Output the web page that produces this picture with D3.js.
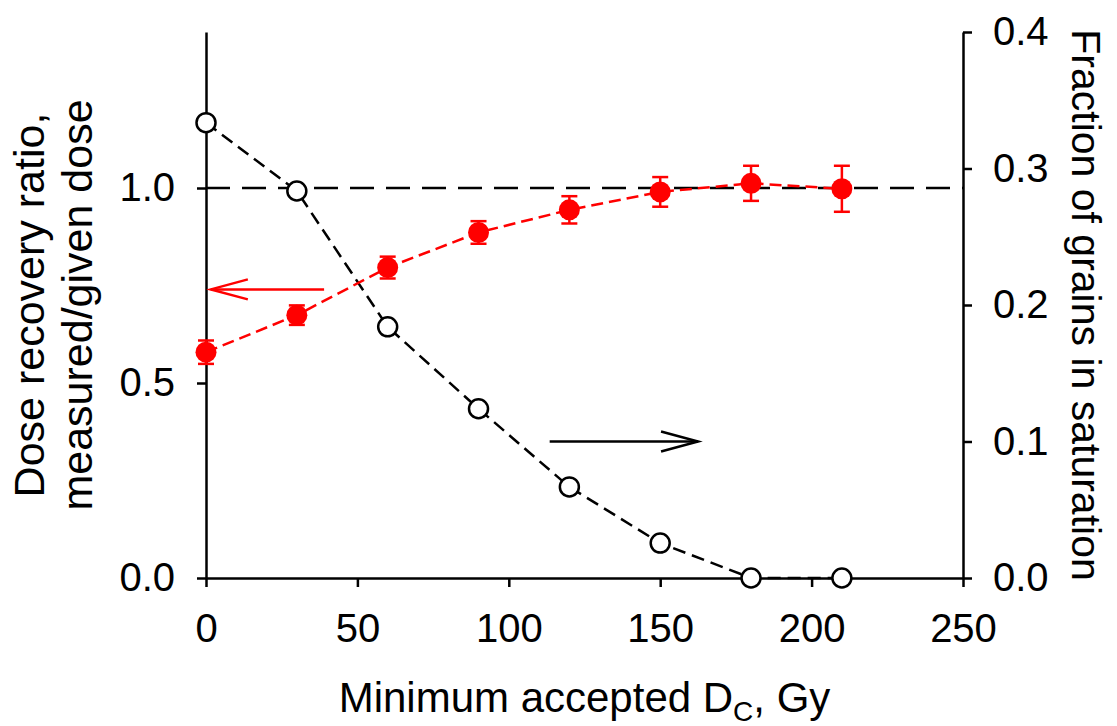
<!DOCTYPE html>
<html>
<head>
<meta charset="utf-8">
<script src="https://cdn.jsdelivr.net/npm/d3@7"></script>
<style>
  html, body { margin: 0; padding: 0; background: #fff; }
  svg { display: block; }
  text { font-family: "Liberation Sans", Arial, sans-serif; fill: #000; }
</style>
</head>
<body>
<svg id="chart" width="1117" height="726"></svg>
<script>
// ---- data ----
const minDc = [0, 30, 60, 90, 120, 150, 180, 210];
const doseRatio = [0.579, 0.674, 0.796, 0.886, 0.944, 0.990, 1.012, 0.998];
const doseRatioErr = [0.030, 0.025, 0.028, 0.029, 0.035, 0.038, 0.045, 0.059];
const fracSaturation = [0.3336, 0.2835, 0.184, 0.124, 0.0667, 0.0256, 0.0, 0.0];
const xTicks = [0, 50, 100, 150, 200, 250];
const yLeftTicks = [0, 0.5, 1.0];
const yRightTicks = [0, 0.1, 0.2, 0.3, 0.4];
const referenceRatio = 1.0;
// arrows: [x0, x1, y]  (red on left axis, black on right axis)
const leftArrow = [39, 1.6, 0.74];
const rightArrow = [113.5, 162.5, 0.1];

// ---- layout ----
const svg = d3.select("#chart");
const L = 206, R = 963, T = 32, B = 578;
const x = d3.scaleLinear().domain([0, 250]).range([L, R]);
const yL = d3.scaleLinear().domain([0, 1.4]).range([B, T]);
const yR = d3.scaleLinear().domain([0, 0.4]).range([B, T]);
const red = "#ff0000";
const fmt1 = d3.format(".1f");

// reference line at 1.0
svg.append("line")
  .attr("x1", x(0)).attr("x2", x(250))
  .attr("y1", yL(referenceRatio)).attr("y2", yL(referenceRatio))
  .attr("stroke", "#000").attr("stroke-width", 2.5)
  .attr("stroke-dasharray", "24,12");

// axes
function styleAxis(g) {
  g.select(".domain").attr("stroke", "#000").attr("stroke-width", 2.5);
  g.selectAll(".tick line").attr("stroke", "#000").attr("stroke-width", 2.5);
  g.selectAll(".tick text").style("font-size", "40px").attr("fill", "#000");
}
svg.append("g").attr("transform", `translate(0,${B})`)
  .call(d3.axisBottom(x).tickValues(xTicks).tickFormat(d3.format("d")).tickSize(9).tickPadding(27).tickSizeOuter(0))
  .call(styleAxis);
svg.append("g").attr("transform", `translate(${L},0)`)
  .call(d3.axisLeft(yL).tickValues(yLeftTicks).tickFormat(fmt1).tickSize(9).tickPadding(22).tickSizeOuter(0))
  .call(styleAxis);
svg.append("g").attr("transform", `translate(${R},0)`)
  .call(d3.axisRight(yR).tickValues(yRightTicks).tickFormat(fmt1).tickSize(9).tickPadding(21).tickSizeOuter(0))
  .call(styleAxis);

// black series (right axis)
const lineR = d3.line().x((d, i) => x(minDc[i])).y(d => yR(d));
svg.append("path").datum(fracSaturation)
  .attr("d", lineR).attr("fill", "none")
  .attr("stroke", "#000").attr("stroke-width", 2.5).attr("stroke-dasharray", "13,7");

// red series (left axis)
const lineL = d3.line().x((d, i) => x(minDc[i])).y(d => yL(d));
svg.append("path").datum(doseRatio)
  .attr("d", lineL).attr("fill", "none")
  .attr("stroke", red).attr("stroke-width", 2.5).attr("stroke-dasharray", "12,6");

svg.append("g").selectAll("circle").data(fracSaturation).join("circle")
  .attr("cx", (d, i) => x(minDc[i])).attr("cy", d => yR(d)).attr("r", 9.5)
  .attr("fill", "#fff").attr("stroke", "#000").attr("stroke-width", 2.5);

// error bars
const eb = svg.append("g").attr("stroke", red).attr("stroke-width", 2.5);
doseRatio.forEach((v, i) => {
  const cx = x(minDc[i]);
  const y1 = yL(v + doseRatioErr[i]), y0 = yL(v - doseRatioErr[i]);
  eb.append("line").attr("x1", cx).attr("x2", cx).attr("y1", y1).attr("y2", y0);
  eb.append("line").attr("x1", cx - 8).attr("x2", cx + 8).attr("y1", y1).attr("y2", y1);
  eb.append("line").attr("x1", cx - 8).attr("x2", cx + 8).attr("y1", y0).attr("y2", y0);
});
svg.append("g").selectAll("circle").data(doseRatio).join("circle")
  .attr("cx", (d, i) => x(minDc[i])).attr("cy", d => yL(d)).attr("r", 10.5)
  .attr("fill", red);

// arrows
function arrow(x0, x1, yy, color) {
  const dir = Math.sign(x1 - x0);
  const g = svg.append("g").attr("stroke", color).attr("stroke-width", 2.5).attr("fill", "none");
  g.append("line").attr("x1", x0).attr("x2", x1).attr("y1", yy).attr("y2", yy);
  g.append("path").attr("d", `M${x1 - dir * 37},${yy - 10}L${x1},${yy}L${x1 - dir * 37},${yy + 10}`);
}
arrow(x(leftArrow[0]), x(leftArrow[1]), yL(leftArrow[2]), red);
arrow(x(rightArrow[0]), x(rightArrow[1]), yR(rightArrow[2]), "#000");

// titles
const xt = svg.append("text").attr("x", (L + R) / 2).attr("y", 712)
  .attr("text-anchor", "middle").style("font-size", "42px");
xt.append("tspan").text("Minimum accepted D");
xt.append("tspan").text("C").style("font-size", "28px").attr("dy", 9);
xt.append("tspan").text(", Gy").attr("dy", -9);

const cy = (T + B) / 2;
svg.append("text").attr("transform", `translate(44,${cy}) rotate(-90)`)
  .attr("text-anchor", "middle").style("font-size", "43px").text("Dose recovery ratio,");
svg.append("text").attr("transform", `translate(92,${cy}) rotate(-90)`)
  .attr("text-anchor", "middle").style("font-size", "43px").text("measured/given dose");
svg.append("text").attr("transform", `translate(1072,${cy}) rotate(90)`)
  .attr("text-anchor", "middle").style("font-size", "41px").text("Fraction of grains in saturation");
</script>
</body>
</html>
